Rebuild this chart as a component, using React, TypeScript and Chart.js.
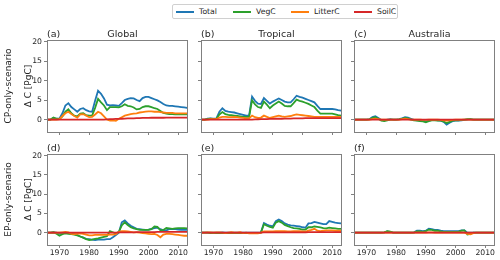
import React, { useEffect, useRef } from "react";
import { Chart, registerables } from "chart.js";

Chart.register(...registerables);

// ---------------- data ----------------
const YEARS = [
  1966, 1967, 1968, 1969, 1970, 1971, 1972, 1973, 1974, 1975, 1976, 1977,
  1978, 1979, 1980, 1981, 1982, 1983, 1984, 1985, 1986, 1987, 1988, 1989,
  1990, 1991, 1992, 1993, 1994, 1995, 1996, 1997, 1998, 1999, 2000, 2001,
  2002, 2003, 2004, 2005, 2006, 2007, 2008, 2009, 2010, 2011, 2012, 2013,
];
const X_TICKS = [1970, 1980, 1990, 2000, 2010];
const Y_TICKS = [0, 5, 10, 15, 20];
const SERIES_NAMES = ["Total", "VegC", "LitterC", "SoilC"];
const SERIES_COLORS = ["#1f77b4", "#2ca02c", "#ff7f0e", "#d62728"];
const PANEL_LABELS = ["(a)", "(b)", "(c)", "(d)", "(e)", "(f)"];
const REGION_TITLES = ["Global", "Tropical", "Australia"];
const ROW_LABELS = ["CP-only-scenario", "EP-only-scenario"];
const Y_LABEL = "Δ C [PgC]";

// (a) Global, CP-only
const globalCpTotal = [0, 0, 0.4, 0.2, 0.3, 1.6, 3.6, 4.2, 3.2, 2.6, 2.0, 2.7, 2.9, 2.4, 2.1, 2.0, 4.8, 7.4, 6.6, 5.4, 3.8, 3.6, 3.7, 3.6, 3.5, 4.2, 5.0, 5.3, 5.5, 5.4, 5.0, 4.7, 5.5, 5.8, 5.8, 5.5, 5.2, 4.9, 4.5, 4.0, 3.6, 3.5, 3.5, 3.4, 3.3, 3.2, 3.1, 3.0];
const globalCpVeg = [0, 0, 0.5, 0.2, 0.1, 0.8, 2.0, 2.6, 1.6, 1.0, 0.8, 1.5, 1.6, 1.1, 1.0, 1.0, 3.0, 5.3, 4.4, 3.6, 2.4, 3.2, 3.2, 3.2, 3.1, 3.4, 3.9, 3.5, 3.4, 3.1, 2.6, 2.7, 3.2, 3.4, 3.4, 3.2, 2.9, 2.7, 2.2, 1.7, 1.5, 1.4, 1.4, 1.3, 1.3, 1.3, 1.3, 1.3];
const globalCpLitter = [0, 0, 0, 0, 0.1, 0.9, 1.6, 2.0, 1.4, 0.9, 0.5, 1.3, 1.4, 1.0, 0.6, 0.7, 1.3, 2.0, 1.6, 0.8, 0.0, -0.3, -0.2, -0.3, 0.2, 0.6, 1.0, 1.2, 1.4, 1.5, 1.6, 1.8, 1.9, 2.0, 2.1, 2.1, 2.0, 2.0, 1.9, 1.8, 1.7, 1.7, 1.7, 1.6, 1.6, 1.6, 1.6, 1.6];
const globalCpSoil = [0, 0, 0, 0, 0, 0, 0, 0, 0, 0, 0, 0, 0, 0, 0, 0, 0, 0, 0, 0, 0.05, 0.1, 0.1, 0.15, 0.15, 0.2, 0.25, 0.3, 0.3, 0.3, 0.35, 0.35, 0.4, 0.4, 0.4, 0.45, 0.45, 0.45, 0.45, 0.45, 0.5, 0.5, 0.5, 0.5, 0.5, 0.5, 0.5, 0.5];

// (b) Tropical, CP-only
const tropCpTotal = [0, 0, 0.2, 0.3, 0.2, 0.3, 2.0, 2.9, 2.2, 2.0, 1.9, 1.8, 1.6, 1.4, 1.2, 1.0, 1.0, 5.9, 4.8, 4.1, 4.0, 5.5, 4.8, 4.1, 4.6, 5.0, 5.4, 5.0, 4.6, 4.4, 4.4, 5.2, 6.1, 5.8, 5.6, 5.3, 5.0, 4.7, 4.4, 3.5, 2.7, 2.7, 2.7, 2.7, 2.7, 2.6, 2.4, 2.3];
const tropCpVeg = [0, 0, 0.1, 0.2, 0.1, 0.2, 1.3, 1.9, 1.4, 1.2, 1.1, 1.0, 0.9, 0.8, 0.7, 0.7, 0.7, 4.9, 3.9, 3.2, 3.0, 4.6, 3.8, 2.9, 3.6, 4.1, 4.6, 4.1, 3.5, 3.4, 3.4, 4.2, 5.1, 4.8, 4.6, 4.3, 4.0, 3.6, 3.2, 2.3, 1.5, 1.5, 1.5, 1.5, 1.5, 1.3, 1.1, 1.0];
const tropCpLitter = [0, 0, 0, 0.1, 0.1, 0.1, 0.5, 0.7, 0.7, 0.6, 0.6, 0.7, 0.6, 0.5, 0.4, 0.3, 0.3, 1.0, 0.6, 0.4, 0.5, 1.0, 0.7, 0.4, 0.6, 0.8, 1.0, 0.8, 0.7, 0.8, 0.9, 1.1, 1.3, 1.2, 1.1, 1.0, 0.9, 0.8, 0.7, 0.7, 0.7, 0.7, 0.7, 0.7, 0.7, 0.7, 0.7, 0.7];
const tropCpSoil = [0, 0, 0, 0, 0, 0, 0, 0, 0, 0, 0, 0, 0, 0, 0, 0, 0, 0, 0.05, 0.05, 0.1, 0.1, 0.1, 0.15, 0.15, 0.2, 0.2, 0.2, 0.25, 0.25, 0.25, 0.3, 0.3, 0.3, 0.3, 0.35, 0.35, 0.35, 0.35, 0.35, 0.35, 0.35, 0.35, 0.35, 0.35, 0.35, 0.35, 0.35];

// (c) Australia, CP-only
const ausCpTotal = [0, 0, 0, 0, 0, 0.1, 0.6, 0.85, 0.4, -0.1, -0.2, 0, 0.1, 0, 0, 0.1, 0.3, 0.6, 0.5, 0.2, -0.1, -0.2, -0.2, -0.3, -0.5, -0.3, -0.1, -0.1, -0.2, -0.3, -0.6, -1.3, -0.8, -0.4, -0.3, -0.3, -0.2, -0.1, 0, 0.1, 0, 0, 0, 0, 0, 0, 0, 0];
const ausCpVeg = [0, 0, 0, 0, 0, 0.05, 0.4, 0.6, 0.2, -0.3, -0.4, -0.2, 0, 0, 0, 0.05, 0.2, 0.4, 0.3, 0, -0.2, -0.3, -0.4, -0.5, -0.7, -0.4, -0.2, -0.2, -0.3, -0.3, -0.5, -0.9, -0.6, -0.3, -0.2, -0.2, -0.1, 0, 0.1, 0.1, 0, 0, 0, 0, 0, 0, 0, 0];
const ausCpLitter = [0, 0, 0, 0, 0, 0, 0.1, 0.2, 0.1, 0, 0, 0, 0, 0, 0, 0, 0.1, 0.2, 0.1, 0, 0, 0, 0, -0.1, -0.1, 0, 0, 0, 0, -0.1, -0.2, -0.3, -0.2, -0.1, 0, 0, 0, 0, 0, 0, 0, 0, 0, 0, 0, 0, 0, 0];
const ausCpSoil = [0, 0, 0, 0, 0, 0, 0, 0, 0, 0, 0, 0, 0, 0, 0, 0, 0, 0, 0, 0, 0, 0, 0, 0, 0, 0, 0, 0, 0, 0, 0, 0, 0, 0, 0, 0, 0, 0, 0, 0, 0, 0, 0, 0, 0, 0, 0, 0];

// (d) Global, EP-only
const globalEpTotal = [0, 0, 0.1, 0, -0.3, -0.2, 0, -0.1, -0.2, -0.4, -0.6, -1.0, -1.3, -1.6, -1.7, -1.8, -1.9, -1.8, -1.8, -1.8, -1.7, -1.7, -1.2, -0.6, 0.0, 2.7, 3.2, 2.4, 1.8, 1.4, 1.0, 0.9, 0.8, 0.7, 0.8, 1.0, 1.2, 1.3, 0.9, 0.6, 0.6, 0.9, 1.0, 0.9, 0.8, 0.7, 0.7, 0.7];
const globalEpVeg = [0, 0, 0.1, -0.3, -0.8, -0.4, -0.2, -0.3, -0.4, -0.5, -0.7, -1.0, -1.3, -1.7, -1.9, -1.8, -1.6, -1.5, -1.3, -1.1, -0.9, 0.4, 0.1, -0.2, 0.2, 1.9, 2.7, 2.0, 1.4, 1.1, 0.9, 0.7, 0.7, 0.7, 0.7, 0.9, 1.6, 1.5, 0.6, 0.7, 1.2, 1.1, 1.0, 1.1, 1.2, 1.2, 1.2, 1.1];
const globalEpLitter = [0, 0, 0, 0, 0, 0.1, 0.2, 0.1, -0.3, -0.4, -0.3, -0.2, -0.3, -0.5, -0.7, -0.7, -0.6, -0.6, -0.6, -0.6, -0.6, -0.5, -0.5, -0.4, 0.2, 0.4, 0.4, 0.3, 0.2, 0.1, 0.1, 0.0, -0.1, -0.2, -0.3, -0.4, -0.3, -0.6, -1.2, -0.5, -0.3, -0.3, -0.4, -0.5, -0.6, -0.7, -0.8, -0.8];
const globalEpSoil = [0, 0, 0, 0, 0, 0, 0, 0, 0, 0, 0, 0, 0, 0, 0, 0, 0, 0, 0, 0, 0, 0, 0, 0, 0.05, 0.1, 0.1, 0.1, 0.1, 0.1, 0.15, 0.15, 0.15, 0.15, 0.15, 0.15, 0.15, 0.2, 0.2, 0.2, 0.2, 0.2, 0.2, 0.2, 0.2, 0.2, 0.2, 0.2];

// (e) Tropical, EP-only
const tropEpTotal = [0, 0, 0, 0, 0, 0, 0, 0.05, 0, 0, 0, 0, 0, 0, 0, 0, 0, 0, 0, 0, 0.1, 2.5, 2.1, 1.8, 1.6, 3.0, 3.4, 3.0, 2.4, 2.1, 1.9, 1.8, 1.7, 1.6, 1.4, 1.3, 2.4, 2.5, 2.8, 2.6, 2.4, 2.2, 2.2, 3.0, 2.8, 2.6, 2.5, 2.4];
const tropEpVeg = [0, 0, 0, -0.1, -0.1, -0.1, -0.1, -0.1, -0.1, -0.1, -0.1, -0.1, -0.1, -0.1, -0.1, -0.1, -0.1, -0.1, -0.1, -0.1, 0.0, 2.2, 1.8, 1.5, 1.3, 2.6, 3.0, 2.6, 2.0, 1.7, 1.4, 1.2, 1.1, 1.0, 0.8, 0.8, 1.4, 1.4, 1.6, 1.5, 1.4, 1.2, 1.1, 1.3, 1.2, 1.1, 1.0, 1.0];
const tropEpLitter = [0, 0, 0.1, 0.1, 0, 0.1, 0.1, 0, -0.1, 0, 0.1, 0, 0, 0.1, -0.1, 0, -0.2, -0.2, -0.1, -0.2, 0.0, 0.3, 0.3, 0.3, 0.3, 0.4, 0.4, 0.4, 0.4, 0.3, 0.3, 0.4, 0.4, 0.4, 0.3, 0.3, 0.5, 0.7, 1.0, 0.5, 0.4, 0.5, 0.6, 0.6, 0.6, 0.5, 0.5, 0.5];
const tropEpSoil = [0, 0, 0, 0, 0, 0, 0, 0, 0, 0, 0, 0, 0, 0, 0, 0, 0, 0, 0, 0, 0, 0.05, 0.05, 0.05, 0.05, 0.1, 0.1, 0.1, 0.1, 0.1, 0.1, 0.1, 0.1, 0.1, 0.1, 0.1, 0.15, 0.15, 0.15, 0.15, 0.15, 0.15, 0.15, 0.15, 0.15, 0.15, 0.15, 0.15];

// (f) Australia, EP-only
const ausEpTotal = [0, 0, 0, 0, 0, 0, 0, 0, 0, 0, 0.1, 0.3, 0.2, 0, 0, 0, 0, 0, 0, 0, 0.1, 0.5, 0.5, 0.4, 0.5, 1.0, 0.9, 0.7, 0.7, 0.5, 0.4, 0.4, 0.4, 0.4, 0.4, 0.4, 0.6, 0.6, 0.0, 0.0, 0, 0, 0, 0, 0, 0, 0, 0];
const ausEpVeg = [0, 0, 0, 0, 0, 0, 0, 0, 0, 0, 0.1, 0.4, 0.3, 0, 0, 0, 0, 0, 0, 0, 0, 0.3, 0.3, 0.2, 0.4, 0.8, 0.7, 0.5, 0.5, 0.3, 0.2, 0.2, 0.2, 0.2, 0.2, 0.2, 0.5, 0.6, -0.5, -0.3, 0, 0, 0, 0, 0, 0, 0, 0];
const ausEpLitter = [0, 0, 0, 0, 0, 0, 0, 0, 0, 0, 0, 0, 0, 0, 0, 0, 0, 0, 0, 0, 0, 0, 0, 0, 0, 0.1, 0.1, 0, 0, 0, 0, 0, 0, 0, 0, 0, 0, 0, -0.3, -0.4, -0.1, 0, 0, 0, 0, 0, 0, 0];
const ausEpSoil = [0, 0, 0, 0, 0, 0, 0, 0, 0, 0, 0, 0, 0, 0, 0, 0, 0, 0, 0, 0, 0, 0, 0, 0, 0, 0, 0, 0, 0, 0, 0, 0, 0, 0, 0, 0, 0, 0, 0, 0, 0, 0, 0, 0, 0, 0, 0, 0];

const PANEL_DATA = [
  [globalCpTotal, globalCpVeg, globalCpLitter, globalCpSoil],
  [tropCpTotal, tropCpVeg, tropCpLitter, tropCpSoil],
  [ausCpTotal, ausCpVeg, ausCpLitter, ausCpSoil],
  [globalEpTotal, globalEpVeg, globalEpLitter, globalEpSoil],
  [tropEpTotal, tropEpVeg, tropEpLitter, tropEpSoil],
  [ausEpTotal, ausEpVeg, ausEpLitter, ausEpSoil],
];

// ---------------- layout / style ----------------
const X_MIN = 1965.8;
const X_MAX = 2013.3;
const Y_MIN = -3.2;
const Y_MAX = 20.4;
const COL_LEFT = [47, 201, 354];
const PLOT_W = 141;
const ROW_TOP = [40, 154];
const ROW_H = [92, 91];
const FONT = "'DejaVu Sans', sans-serif";
const SPINE = "#808080";
const TEXT = "#262626";
const TICK_SIZE = 7.7;
const TITLE_SIZE = 9.5;

const decoPlugin = {
  id: "deco",
  afterDraw(chart: any, _args: any, opts: any) {
    const { ctx, chartArea: a } = chart;
    ctx.save();
    ctx.strokeStyle = SPINE;
    ctx.lineWidth = 1;
    ctx.strokeRect(a.left + 0.5, a.top + 0.5, a.right - a.left - 1, a.bottom - a.top);
    ctx.fillStyle = TEXT;
    ctx.font = `${TITLE_SIZE}px ${FONT}`;
    ctx.textBaseline = "alphabetic";
    ctx.textAlign = "left";
    ctx.fillText(opts.label, a.left, a.top - 3);
    if (opts.title) {
      ctx.textAlign = "center";
      ctx.fillText(opts.title, (a.left + a.right) / 2 + 5, a.top - 3);
    }
    if (opts.rowLabel) {
      ctx.translate(8.5, (a.top + a.bottom) / 2);
      ctx.rotate(-Math.PI / 2);
      ctx.textAlign = "center";
      ctx.textBaseline = "middle";
      ctx.font = `${9}px ${FONT}`;
      ctx.fillText(opts.rowLabel, 0, 0);
    }
    ctx.restore();
  },
};

function Panel({ row, col }: { row: number; col: number }) {
  const ref = useRef<HTMLCanvasElement>(null);
  const idx = row * 3 + col;
  const lw = col === 0 ? 47 : 8;
  const tp = 16;
  const rp = 6;
  const bh = row === 1 ? 15 : 8;
  const w = lw + PLOT_W + rp;
  const h = tp + ROW_H[row] + bh;
  const left = COL_LEFT[col] - lw;
  const top = ROW_TOP[row] - tp;

  useEffect(() => {
    const series = PANEL_DATA[idx];
    const chart = new Chart(ref.current as HTMLCanvasElement, {
      type: "line",
      data: {
        datasets: series.map((vals, i) => ({
          label: SERIES_NAMES[i],
          data: YEARS.map((yr, k) => ({ x: yr, y: vals[k] })),
          borderColor: SERIES_COLORS[i],
          backgroundColor: SERIES_COLORS[i],
          borderWidth: 1.8,
          pointRadius: 0,
          tension: 0,
          fill: false,
          order: 4 - i,
        })),
      },
      options: {
        responsive: false,
        animation: false,
        devicePixelRatio: 1,
        layout: { padding: { top: tp, right: rp, left: 0, bottom: 0 } },
        plugins: {
          legend: { display: false },
          tooltip: { enabled: false },
          deco: {
            label: PANEL_LABELS[idx],
            title: row === 0 ? REGION_TITLES[col] : "",
            rowLabel: col === 0 ? ROW_LABELS[row] : "",
          },
        } as any,
        scales: {
          x: {
            type: "linear",
            min: X_MIN,
            max: X_MAX,
            afterBuildTicks: (s: any) => {
              s.ticks = X_TICKS.map((v) => ({ value: v }));
            },
            afterFit: (s: any) => {
              s.height = bh;
            },
            ticks: {
              autoSkip: false,
              maxRotation: 0,
              padding: 0,
              color: TEXT,
              font: { family: FONT, size: TICK_SIZE },
              callback: (v: any) => (row === 1 ? String(v) : ""),
            },
            grid: {
              drawOnChartArea: false,
              drawTicks: true,
              tickLength: 3,
              tickColor: SPINE,
              tickWidth: 1,
            },
            border: { display: false },
          },
          y: {
            type: "linear",
            min: Y_MIN,
            max: Y_MAX,
            afterBuildTicks: (s: any) => {
              s.ticks = Y_TICKS.map((v) => ({ value: v }));
            },
            afterFit: (s: any) => {
              s.width = lw;
            },
            ticks: {
              padding: 2,
              color: TEXT,
              font: { family: FONT, size: TICK_SIZE },
              callback: (v: any) => (col === 0 ? String(v) : ""),
            },
            grid: {
              drawOnChartArea: false,
              drawTicks: true,
              tickLength: 3,
              tickColor: SPINE,
              tickWidth: 1,
            },
            border: { display: false },
            title: {
              display: col === 0,
              text: Y_LABEL,
              color: TEXT,
              font: { family: FONT, size: 9, lineHeight: 1.2 },
              padding: { top: 23, bottom: 0 },
            },
          },
        },
      },
      plugins: [decoPlugin],
    } as any);
    return () => chart.destroy();
  }, []);

  return (
    <canvas
      ref={ref}
      width={w}
      height={h}
      style={{ position: "absolute", left, top, width: w, height: h }}
    />
  );
}

const LEGEND_SWATCH_X = [175, 232, 290, 353];

function Legend() {
  return (
    <div
      style={{
        position: "absolute",
        left: 172,
        top: 4,
        width: 226,
        height: 15,
        border: "1px solid #d0d0d0",
        borderRadius: 2,
        boxSizing: "border-box",
        background: "rgba(255,255,255,0.9)",
      }}
    >
      {SERIES_NAMES.map((name, i) => (
        <React.Fragment key={name}>
          <div
            style={{
              position: "absolute",
              left: LEGEND_SWATCH_X[i] - 172,
              top: 5.5,
              width: 18,
              height: 2,
              background: SERIES_COLORS[i],
            }}
          />
          <div
            style={{
              position: "absolute",
              left: LEGEND_SWATCH_X[i] - 172 + 23,
              top: 1,
              fontFamily: FONT,
              fontSize: TICK_SIZE,
              lineHeight: "11px",
              color: TEXT,
              whiteSpace: "nowrap",
            }}
          >
            {name}
          </div>
        </React.Fragment>
      ))}
    </div>
  );
}

export default function App() {
  return (
    <div
      style={{
        position: "absolute",
        left: 0,
        top: 0,
        width: 500,
        height: 260,
        background: "#ffffff",
        overflow: "hidden",
      }}
    >
      <Legend />
      {[0, 1].map((r) =>
        [0, 1, 2].map((c) => <Panel key={`${r}-${c}`} row={r} col={c} />)
      )}
    </div>
  );
}
